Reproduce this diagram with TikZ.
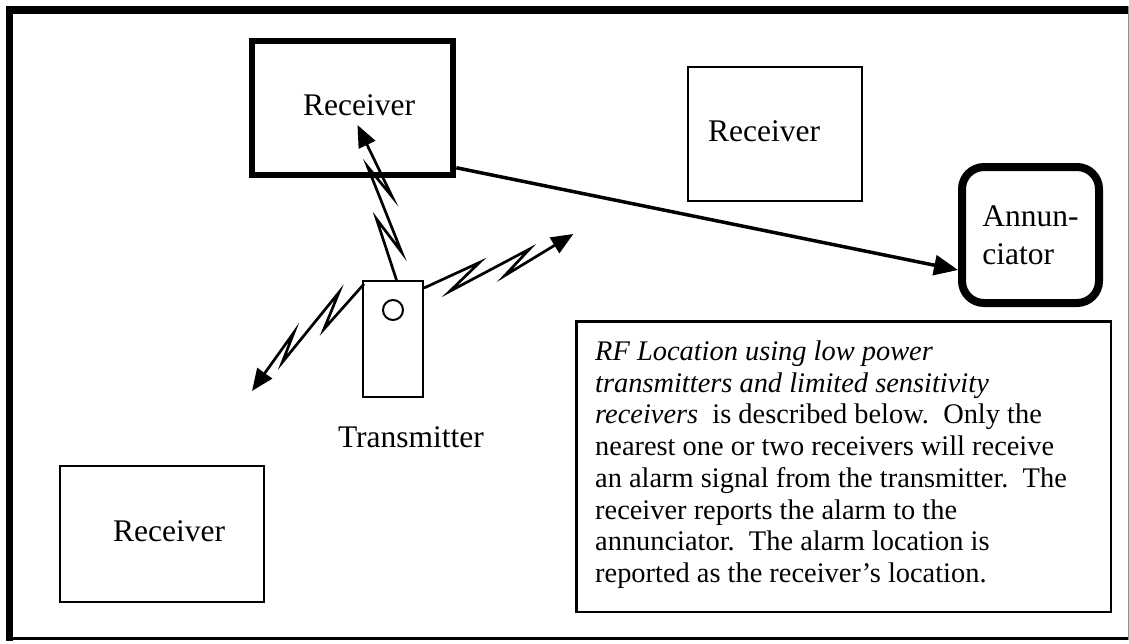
\documentclass[tikz,border=0pt]{standalone}
\usepackage{fontspec}
\setmainfont{Liberation Serif}
\usetikzlibrary{arrows.meta}

\begin{document}
\begin{tikzpicture}[x=1pt,y=-1pt,
  lbl/.style={font=\fontsize{31.5}{38}\selectfont},
  recv/.style={draw, rectangle, lbl, inner sep=0pt},
  zap/.style={line width=2.7pt, line join=miter, -{Triangle[length=22pt,width=18pt]}},
  link/.style={line width=3.5pt, -{Triangle[length=24pt,width=20pt]}},
]
\useasboundingbox (0,0) rectangle (1129,643);

% outer frame
\draw[line width=8pt] (6,10) -- (1129,10);
\draw[line width=7pt] (9.7,6) -- (9.7,641);
\draw[line width=3.5pt] (6,638.5) -- (1129,638.5);
\draw[line width=1pt, black!45] (1128,6) -- (1128,640);

% receivers
\node[recv, line width=6pt, minimum width=201.6pt, minimum height=133.7pt, text depth=6pt]
  (r1) at (352.5,107.9) {\hspace*{13pt}Receiver};
\node[recv, line width=2pt, minimum width=174pt, minimum height=134pt, text depth=5pt]
  (r2) at (775,134) {Receiver\hspace*{22pt}};
\node[recv, line width=2.5pt, minimum width=204pt, minimum height=135.7pt, text depth=6.5pt]
  (r3) at (162,533.9) {\hspace*{14pt}Receiver};

% annunciator
\node[draw, line width=8pt, rounded corners=22pt, lbl, align=left, inner sep=0pt,
  minimum width=137pt, minimum height=136pt] (ann) at (1030.5,235) {Annun-\\ciator};

% transmitter
\node[draw, line width=2pt, minimum width=60pt, minimum height=116pt, inner sep=0pt]
  (tx) at (393,339) {};
\node[draw, circle, line width=2pt, minimum size=20pt, inner sep=0pt] (led) at (393,310) {};
\node[lbl, anchor=base, inner sep=0pt] (txl) at (411,447) {Transmitter};

% signal tips
\coordinate (zapN) at (357.5,125);
\coordinate (zapE) at (573.3,234);
\coordinate (zapW) at (252,391);

% radio links from the transmitter
\draw[zap] ([xshift=3.5pt]tx.north) -- ++(-20,-61) -- ++(25.2,33.3) -- ++(-34.2,-85.8)
  -- ++(24.7,30.3) -- (zapN);
\draw[zap] ([yshift=-8pt]tx.north east) -- ++(55.6,-25.6) -- ++(-30,29) -- ++(80,-42.4)
  -- ++(-25,26.7) -- (zapE);
\draw[zap] ([xshift=2pt,yshift=-4pt]tx.north west) -- ++(-40,45) -- ++(15,-36.7)
  -- ++(-56.7,70) -- ++(11.7,-30) -- (zapW);

% receiver reports to the annunciator
\draw[link] ([yshift=10pt]r1.south east) -- ([yshift=-35pt]ann.west);

% description
\node[draw, line width=2.5pt, minimum width=534.5pt, minimum height=290.5pt, inner sep=0pt]
  (tb) at (843.5,466.5) {};
\node[anchor=north west, align=left, inner sep=0pt,
  font=\fontsize{28.4}{31.7}\selectfont] (tbt) at ([xshift=20pt,yshift=-20.6pt]tb.north west)
  {\textit{RF Location using low power}\\
   \textit{transmitters and limited sensitivity}\\
   \textit{receivers}\ \ is described below.\ \ Only the\\
   nearest one or two receivers will receive\\
   an alarm signal from the transmitter.\ \ The\\
   receiver reports the alarm to the\\
   annunciator.\ \ The alarm location is\\
   reported as the receiver’s location.};
\end{tikzpicture}
\end{document}
